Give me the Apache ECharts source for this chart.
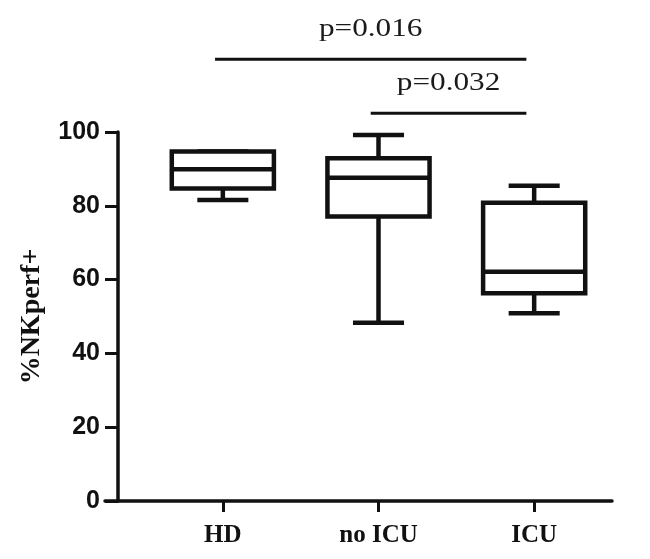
<!DOCTYPE html>
<html>
<head>
<meta charset="utf-8">
<script src="https://cdn.jsdelivr.net/npm/echarts@6/dist/echarts.min.js"></script>
<style>html,body{margin:0;padding:0;background:#fff;}#c{width:650px;height:559px;}</style>
</head>
<body>
<div id="c"></div>
<script>
// ---- data ----
var categories = ['HD', 'no ICU', 'ICU'];
var whiskerLow  = [81.6, 48.3, 50.9];
var q1          = [84.7, 77.1, 56.3];
var medians     = [89.9, 87.6, 62.1];
var q3          = [94.7, 92.9, 80.8];
var whiskerHigh = [94.7, 99.2, 85.4];
var yTicks = [0, 20, 40, 60, 80, 100];
var compFrom = [0, 1];
var compTo   = [2, 2];
var compY    = [119.7, 105.1];
var compText = ['p=0.016', 'p=0.032'];

var boxData = categories.map(function (c, i) {
  return [i, whiskerLow[i], q1[i], medians[i], q3[i], whiskerHigh[i]];
});
var compData = compFrom.map(function (f, i) {
  return [f, compTo[i], compY[i], compText[i]];
});

var chart = echarts.init(document.getElementById('c'), null, {renderer: 'canvas'});
var BLACK = '#111';

function renderBox(params, api) {
  var idx = api.value(0);
  var band = api.size([1, 0])[0];
  var bw = band * 0.656;
  var cw = band * 0.328;
  var pLow = api.coord([idx, api.value(1)]);
  var pQ1 = api.coord([idx, api.value(2)]);
  var pMed = api.coord([idx, api.value(3)]);
  var pQ3 = api.coord([idx, api.value(4)]);
  var pHigh = api.coord([idx, api.value(5)]);
  var cx = pMed[0];
  var ls = {stroke: BLACK, lineWidth: 4.5, fill: null};
  return {
    type: 'group',
    children: [
      {type: 'line', shape: {x1: cx, y1: pQ1[1], x2: cx, y2: pLow[1]}, style: ls},
      {type: 'line', shape: {x1: cx, y1: pQ3[1], x2: cx, y2: pHigh[1]}, style: ls},
      {type: 'line', shape: {x1: cx - cw / 2, y1: pLow[1], x2: cx + cw / 2, y2: pLow[1]}, style: ls},
      {type: 'line', shape: {x1: cx - cw / 2, y1: pHigh[1], x2: cx + cw / 2, y2: pHigh[1]}, style: ls},
      {type: 'rect', shape: {x: cx - bw / 2, y: pQ3[1], width: bw, height: pQ1[1] - pQ3[1]}, style: {stroke: BLACK, lineWidth: 4.5, fill: '#fff'}},
      {type: 'line', shape: {x1: cx - bw / 2, y1: pMed[1], x2: cx + bw / 2, y2: pMed[1]}, style: ls}
    ]
  };
}

function renderComp(params, api) {
  var band = api.size([1, 0])[0];
  var off = band * 0.05;
  var a = api.coord([api.value(0), api.value(2)]);
  var b = api.coord([api.value(1), api.value(2)]);
  var x1 = a[0] - off, x2 = b[0] - off;
  var txt = compText[params.dataIndex];
  return {
    type: 'group',
    children: [
      {type: 'line', shape: {x1: x1, y1: a[1], x2: x2, y2: a[1]}, style: {stroke: BLACK, lineWidth: 3}},
      {type: 'text', x: (x1 + x2) / 2, y: a[1] - 30, scaleX: 1.25,
        style: {text: txt, fill: '#1a1a1a', font: '25px "Liberation Serif", serif', align: 'center', verticalAlign: 'middle'}}
    ]
  };
}

chart.setOption({
  animation: false,
  backgroundColor: '#fff',
  grid: [
    {left: 105, right: 38, top: 132, bottom: 58},
    {left: 145, right: 38, top: 132, bottom: 58}
  ],
  xAxis: [
    {gridIndex: 0, type: 'value', min: 0, max: 1,
      axisLine: {show: true, lineStyle: {color: BLACK, width: 3.5}},
      axisTick: {show: false}, axisLabel: {show: false}, splitLine: {show: false}},
    {gridIndex: 1, type: 'category', data: categories,
      axisLine: {show: false},
      axisTick: {show: true, alignWithLabel: true, length: 11, lineStyle: {color: BLACK, width: 3}},
      axisLabel: {color: BLACK, fontSize: 25, fontWeight: 'bold', fontFamily: '"Liberation Serif", serif', margin: 22},
      splitLine: {show: false}}
  ],
  yAxis: [
    {gridIndex: 0, type: 'value', min: 0, max: 100, show: false},
    {gridIndex: 1, type: 'value', min: 0, max: 100, interval: 20, offset: 27,
      axisLine: {show: true, lineStyle: {color: BLACK, width: 3.5}},
      axisTick: {show: true, length: 13, lineStyle: {color: BLACK, width: 3}},
      axisLabel: {color: BLACK, fontSize: 25, fontWeight: 'bold', fontFamily: '"Liberation Sans", Arial, sans-serif', margin: 18,
        formatter: function (v) { return yTicks.indexOf(v) >= 0 ? String(v) : ''; }},
      splitLine: {show: false},
      name: '%NKperf+', nameLocation: 'middle', nameRotate: 90, nameGap: 72,
      nameTextStyle: {color: BLACK, fontSize: 28, fontWeight: 'bold', fontFamily: '"Liberation Serif", serif'}}
  ],
  series: [
    {type: 'custom', xAxisIndex: 1, yAxisIndex: 1, data: boxData, renderItem: renderBox,
      encode: {x: 0, y: [1, 2, 3, 4, 5]}, clip: false},
    {type: 'custom', xAxisIndex: 1, yAxisIndex: 1, data: compData, renderItem: renderComp,
      encode: {x: [0, 1], y: 2}, clip: false}
  ]
});
</script>
</body>
</html>
